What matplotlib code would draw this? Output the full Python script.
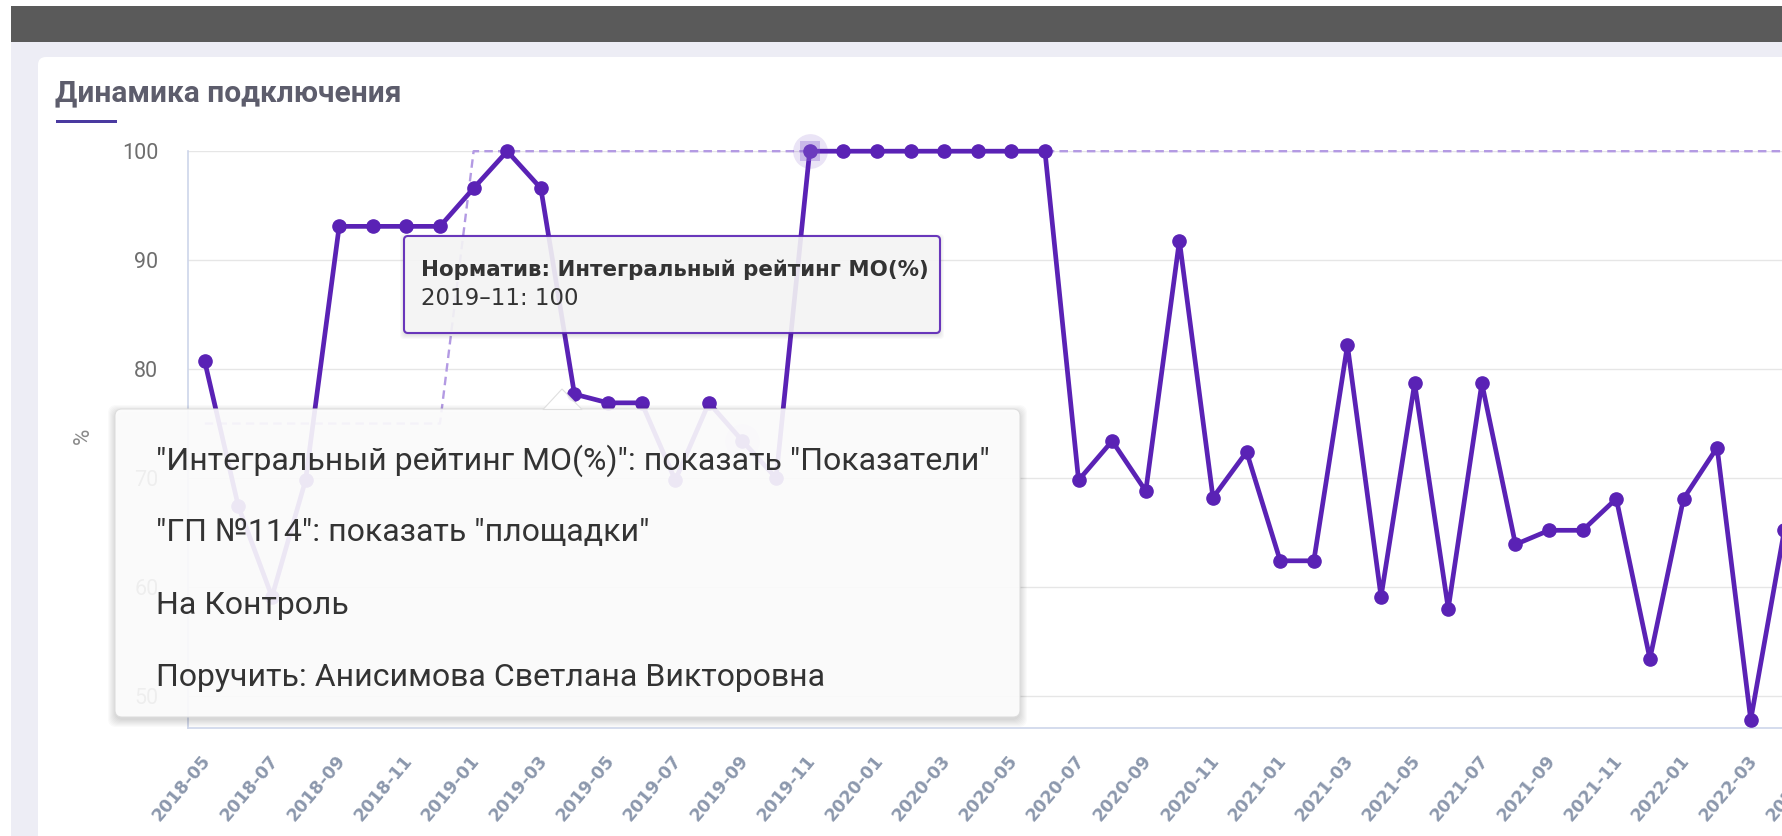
import matplotlib
matplotlib.use('Agg')
import matplotlib.pyplot as plt
from matplotlib.patches import Rectangle, FancyBboxPatch, Polygon
from matplotlib.transforms import blended_transform_factory, ScaledTranslation

# categories (months) and series values
months = ['2018-05', '2018-06', '2018-07', '2018-08', '2018-09', '2018-10', '2018-11', '2018-12',
          '2019-01', '2019-02', '2019-03', '2019-04', '2019-05', '2019-06', '2019-07', '2019-08',
          '2019-09', '2019-10', '2019-11', '2019-12',
          '2020-01', '2020-02', '2020-03', '2020-04', '2020-05', '2020-06', '2020-07', '2020-08',
          '2020-09', '2020-10', '2020-11', '2020-12',
          '2021-01', '2021-02', '2021-03', '2021-04', '2021-05', '2021-06', '2021-07', '2021-08',
          '2021-09', '2021-10', '2021-11', '2021-12',
          '2022-01', '2022-02', '2022-03', '2022-04', '2022-05']

rating = [80.7, 67.4, 59.1, 69.8, 93.1, 93.1, 93.1, 93.1,
          96.6, 100, 96.6, 77.7, 76.9, 76.9, 69.8, 76.9,
          73.4, 70.0, 100, 100,
          100, 100, 100, 100, 100, 100, 69.8, 73.4,
          68.8, 91.8, 68.2, 72.4,
          62.4, 62.4, 82.2, 59.1, 78.7, 58.0, 78.7, 63.9,
          65.2, 65.2, 68.1, 53.4,
          68.1, 72.8, 47.8, 65.2]

norm = [75, 75, 75, 75, 75, 75, 75, 75] + [100] * 40

y_ticks = [50, 60, 70, 80, 90, 100]

title = 'Динамика подключения'
tooltip_head = 'Норматив: Интегральный рейтинг МО(%)'
tooltip_body = '2019–11: 100'
menu_items = ['"Интегральный рейтинг МО(%)": показать "Показатели"',
              '"ГП №114": показать "площадки"',
              'На Контроль',
              'Поручить: Анисимова Светлана Викторовна']

W, H = 1783, 836
PURPLE = '#5a22b5'

plt.rcParams['font.family'] = ['Roboto', 'DejaVu Sans']

fig = plt.figure(figsize=(W / 100, H / 100), dpi=100, facecolor='white')

# page background, top bar and card (pixel coordinates)
bg = fig.add_axes([0, 0, 1, 1], zorder=-1)
bg.set_xlim(0, W)
bg.set_ylim(H, 0)
bg.axis('off')
bg.add_patch(Rectangle((11, 42), W, H, color='#ededf5', lw=0))
bg.add_patch(Rectangle((11, 6), W, 36, color='#5a5a5a', lw=0))
bg.add_patch(FancyBboxPatch((38, 57), W, H, boxstyle='round,pad=0,rounding_size=8',
                            fc='white', ec='none'))
bg.text(55, 101, title, fontsize=21.5, fontweight='bold', color='#5d5d6c', va='baseline')
bg.add_patch(Rectangle((56, 120), 61, 3, color='#4a3aa0', lw=0))
bg.text(83, 436, '%', fontsize=16, color='#8a8a8a', rotation=90, ha='center', va='center')

# chart
ax = fig.add_axes([187.6 / W, 1 - 727.7 / H, 1 - 187.6 / W, (727.7 - 151.2) / H], zorder=1)
ax.patch.set_alpha(0)
x = list(range(len(rating)))
ax.plot(range(len(norm)), norm, color='#b39ae3', lw=1.7, ls=(0, (3.6, 2.2)), zorder=2, clip_on=False)
ax.plot(x, rating, color=PURPLE, lw=3.4, marker='o', ms=9.5, zorder=3, clip_on=False)

# hover highlights
ax.scatter([18], [norm[18]], s=25 ** 2, color=PURPLE, alpha=0.12, lw=0, zorder=4, clip_on=False)
ax.scatter([18], [norm[18]], s=15 ** 2, marker='s', color='#8d6bd1', alpha=0.35, lw=0, zorder=4, clip_on=False)
ax.scatter([16], [rating[16]], s=25 ** 2, color=PURPLE, alpha=0.12, lw=0, zorder=4, clip_on=False)

ax.set_xlim(-0.51, 46.96)
ax.set_ylim(47.08, 100)
ax.set_yticks(y_ticks)
ax.set_xticks([])
ax.tick_params(axis='y', length=0, pad=21, labelsize=15.5, labelcolor='#6e6e6e')
ax.grid(axis='y', color='#e6e6e6', lw=1)
ax.set_axisbelow(True)
for side in ['top', 'right']:
    ax.spines[side].set_visible(False)
for side in ['left', 'bottom']:
    ax.spines[side].set_color('#cdd5ea')
    ax.spines[side].set_linewidth(1.2)

trans = blended_transform_factory(ax.transData, ax.transAxes) + \
    ScaledTranslation(3 / 100, -30 / 100, fig.dpi_scale_trans)
for i in range(0, len(months), 2):
    ax.text(i, 0, months[i], transform=trans, rotation=50, rotation_mode='anchor',
            ha='right', va='center', fontsize=12.5, fontweight='bold', color='#8c98ad',
            family='DejaVu Sans', clip_on=False)

# overlay: tooltip and context menu
ov = fig.add_axes([0, 0, 1, 1], zorder=10)
ov.set_xlim(0, W)
ov.set_ylim(H, 0)
ov.axis('off')

for k in range(5):
    ov.add_patch(FancyBboxPatch((404 - k, 238 - k), 536 + 2 * k, 97 + 2 * k,
                                boxstyle='round,pad=0,rounding_size=4', fc='black', ec='none', alpha=0.025))
ov.add_patch(FancyBboxPatch((404, 236), 536, 97, boxstyle='round,pad=0,rounding_size=4',
                            fc='#f7f7f7', ec=PURPLE, lw=1.5, alpha=0.9))
ov.text(421, 276, tooltip_head, fontsize=15.4, fontweight='bold', color='#333333',
        va='baseline', family='DejaVu Sans')
ov.text(421, 305, tooltip_body, fontsize=16.5, color='#333333', va='baseline', family='DejaVu Sans')

for k in range(8):
    ov.add_patch(FancyBboxPatch((115 - k, 412 - k), 905 + 2 * k, 308 + 2 * k,
                                boxstyle='round,pad=0,rounding_size=8', fc='black', ec='none', alpha=0.02))
ov.add_patch(FancyBboxPatch((115, 409), 905, 308, boxstyle='round,pad=0,rounding_size=7',
                            fc='white', ec='#dcdcdc', lw=0.8, alpha=0.9))
ov.add_patch(Polygon([(543, 409.5), (562, 389), (582, 409.5)], closed=True, fc='white',
                     ec='#dcdcdc', lw=0.8, alpha=0.9))
for yy, item in zip([461, 533, 606, 677], menu_items):
    ov.text(156, yy, item, fontsize=23, color='#333333', va='center')

fig.savefig('out.png', dpi=100)
